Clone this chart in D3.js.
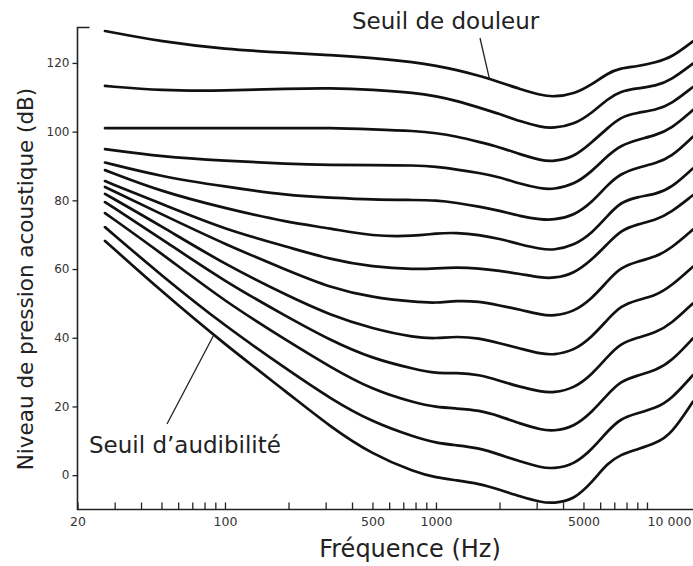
<!DOCTYPE html>
<html>
<head>
<meta charset="utf-8">
<script src="https://cdn.jsdelivr.net/npm/d3@7"></script>
<style>
  html, body { margin: 0; padding: 0; background: #fff; }
  svg { display: block; }
  text { font-family: "DejaVu Sans", Verdana, sans-serif; }
</style>
</head>
<body>
<svg id="chart" width="693" height="566"></svg>
<script>
// Frequencies (Hz) at which every contour is sampled
const freqs = [27, 50, 100, 200, 315, 500, 800, 1000, 1250, 1600, 2000, 2500, 3150, 3600, 4500, 5500, 6500, 7500, 9000, 11000, 13000, 16500];

// Sound pressure level (dB) of each equal-loudness contour
const phon120 = [129.3, 126.2, 124.0, 122.9, 122.3, 121.5, 120.2, 119.2, 118.0, 116.3, 114.4, 112.4, 110.6, 110.1, 110.9, 113.8, 117.0, 118.5, 119.0, 120.2, 121.5, 126.3];
const phon110 = [113.3, 111.9, 111.9, 112.5, 112.7, 112.2, 111.3, 110.3, 109.0, 107.0, 105.2, 103.0, 101.3, 101.0, 102.0, 105.5, 109.5, 111.8, 112.6, 113.3, 115.0, 119.8];
const phon100 = [101.0, 101.0, 101.0, 101.0, 101.1, 100.7, 100.2, 99.6, 98.6, 97.0, 95.5, 93.4, 91.6, 91.3, 92.5, 97.0, 101.0, 104.3, 105.5, 106.3, 108.0, 113.0];
const phon90  = [94.9, 92.7, 91.5, 90.6, 90.3, 90.3, 90.2, 89.8, 89.0, 88.0, 86.8, 84.8, 83.4, 83.2, 84.5, 88.5, 93.0, 96.0, 97.6, 99.0, 100.8, 106.3];
const phon80  = [91.0, 86.9, 84.0, 81.4, 80.8, 80.2, 80.1, 80.0, 79.3, 78.2, 77.0, 75.4, 74.4, 74.3, 75.5, 79.5, 84.5, 87.8, 89.5, 90.8, 92.5, 98.5];
const phon70  = [88.8, 82.5, 77.7, 73.5, 71.9, 69.5, 69.6, 70.4, 70.6, 70.0, 68.8, 67.2, 65.8, 65.5, 66.8, 70.5, 75.5, 79.5, 81.0, 81.8, 83.5, 89.3];
const phon60  = [85.6, 79.0, 71.5, 66.4, 62.8, 60.6, 59.9, 60.2, 60.5, 60.2, 59.5, 58.6, 57.5, 57.3, 58.6, 62.8, 67.3, 71.3, 73.0, 74.3, 76.5, 81.5];
const phon50  = [83.9, 76.0, 67.2, 59.5, 54.6, 51.7, 50.4, 50.1, 50.8, 50.6, 49.4, 48.2, 46.7, 46.3, 47.5, 51.5, 56.5, 60.5, 62.2, 63.5, 66.0, 71.5];
const phon40  = [81.9, 72.5, 61.3, 52.1, 46.6, 42.6, 40.0, 39.8, 40.4, 39.9, 38.4, 36.9, 35.3, 35.0, 36.2, 40.3, 45.3, 49.3, 51.0, 52.3, 55.0, 60.7];
const phon30  = [79.5, 68.8, 56.3, 45.9, 39.3, 33.9, 30.8, 29.6, 29.8, 29.3, 27.5, 25.7, 24.3, 24.0, 25.2, 29.4, 34.5, 38.4, 40.0, 41.5, 44.0, 50.0];
const phon20  = [76.3, 64.6, 50.5, 38.9, 31.5, 24.8, 21.0, 19.8, 19.4, 18.9, 17.2, 15.0, 13.2, 12.8, 14.0, 18.4, 23.5, 27.4, 29.0, 30.5, 33.0, 39.8];
const phon10  = [72.2, 58.1, 43.4, 30.5, 22.3, 15.4, 11.0, 9.4, 8.7, 7.9, 6.0, 4.0, 2.2, 1.9, 3.0, 7.6, 12.8, 16.5, 18.0, 19.5, 22.0, 29.1];
const threshold = [68.2, 53.5, 38.0, 23.8, 14.1, 6.0, 0.8, -0.7, -1.5, -2.5, -4.2, -6.2, -7.9, -8.2, -7.2, -2.0, 3.5, 6.0, 7.5, 9.3, 11.8, 21.4];

const contours = [phon120, phon110, phon100, phon90, phon80, phon70, phon60, phon50, phon40, phon30, phon20, phon10, threshold];

// Axis ticks
const yTicks = [0, 20, 40, 60, 80, 100, 120];
const xTicks = [20, 30, 40, 50, 60, 70, 80, 90, 100, 200, 300, 400, 500, 600, 700, 800, 900, 1000,
                2000, 3000, 4000, 5000, 6000, 7000, 8000, 9000, 10000];
const xLabels = {20: "20", 100: "100", 500: "500", 1000: "1000", 5000: "5000", 10000: "10 000"};

// Annotations
const painLabel = "Seuil de douleur";
const hearingLabel = "Seuil d’audibilité";
const xTitle = "Fréquence (Hz)";
const yTitle = "Niveau de pression acoustique (dB)";

const svg = d3.select("#chart");
svg.append("rect").attr("width", 693).attr("height", 566).attr("fill", "#fff");

const x = d3.scaleLog().domain([20, 20000]).range([77.5, 77.5 + 211 * 3]);
const y = d3.scaleLinear().domain([-10, 130]).range([509.5, 28.6]);

const X0 = x(20), Y0 = y(-10), YTOP = 27.5;

// Curves
const line = d3.line()
  .x((d, i) => x(freqs[i]))
  .y(d => y(d))
  .curve(d3.curveBasis);

svg.append("g").selectAll("path").data(contours).join("path")
  .attr("d", d => line(d))
  .attr("fill", "none")
  .attr("stroke", "#111")
  .attr("stroke-width", 2.7)
  .attr("stroke-linecap", "round");

// Y axis
const yAxis = d3.axisLeft(y).tickValues(yTicks).tickSize(5).tickSizeOuter(0).tickPadding(3);
const gy = svg.append("g").attr("transform", `translate(${X0},0)`).call(yAxis);
gy.select(".domain").remove();
gy.selectAll(".tick line").attr("stroke", "#222").attr("stroke-width", 1.3);
gy.selectAll(".tick text").attr("fill", "#333").style("font-size", "12px");

// X axis
const xAxis = d3.axisBottom(x).tickValues(xTicks).tickSize(-7).tickSizeOuter(0).tickPadding(8)
  .tickFormat(d => xLabels[d] || "");
const gx = svg.append("g").attr("transform", `translate(0,${Y0})`).call(xAxis);
gx.select(".domain").remove();
gx.selectAll(".tick line").attr("stroke", "#222").attr("stroke-width", 1.3);
gx.selectAll(".tick text").attr("fill", "#333").style("font-size", "12.5px")
  .attr("dx", d => d === 10000 ? 22 : 0);

// Axis frame (bracket at top, axes lines)
svg.append("path")
  .attr("d", `M${X0 + 12},${YTOP}H${X0}V${Y0}H693`)
  .attr("fill", "none").attr("stroke", "#222").attr("stroke-width", 1.6);

// Titles
svg.append("text").attr("x", 410).attr("y", 557).attr("text-anchor", "middle")
  .style("font-size", "24px").attr("fill", "#222").text(xTitle);
svg.append("text").attr("transform", "translate(33,279) rotate(-90)").attr("text-anchor", "middle")
  .style("font-size", "21.5px").attr("fill", "#222").text(yTitle);

// Annotations
svg.append("text").attr("x", 352).attr("y", 29).style("font-size", "23px").attr("fill", "#222").text(painLabel);
svg.append("line").attr("x1", 480).attr("y1", 38).attr("x2", x(1790)).attr("y2", y(115.5))
  .attr("stroke", "#222").attr("stroke-width", 1.3);

svg.append("text").attr("x", 89).attr("y", 453).style("font-size", "23px").attr("fill", "#222").text(hearingLabel);
svg.append("line").attr("x1", 167).attr("y1", 424).attr("x2", x(88)).attr("y2", y(40.5))
  .attr("stroke", "#222").attr("stroke-width", 1.3);
</script>
</body>
</html>
